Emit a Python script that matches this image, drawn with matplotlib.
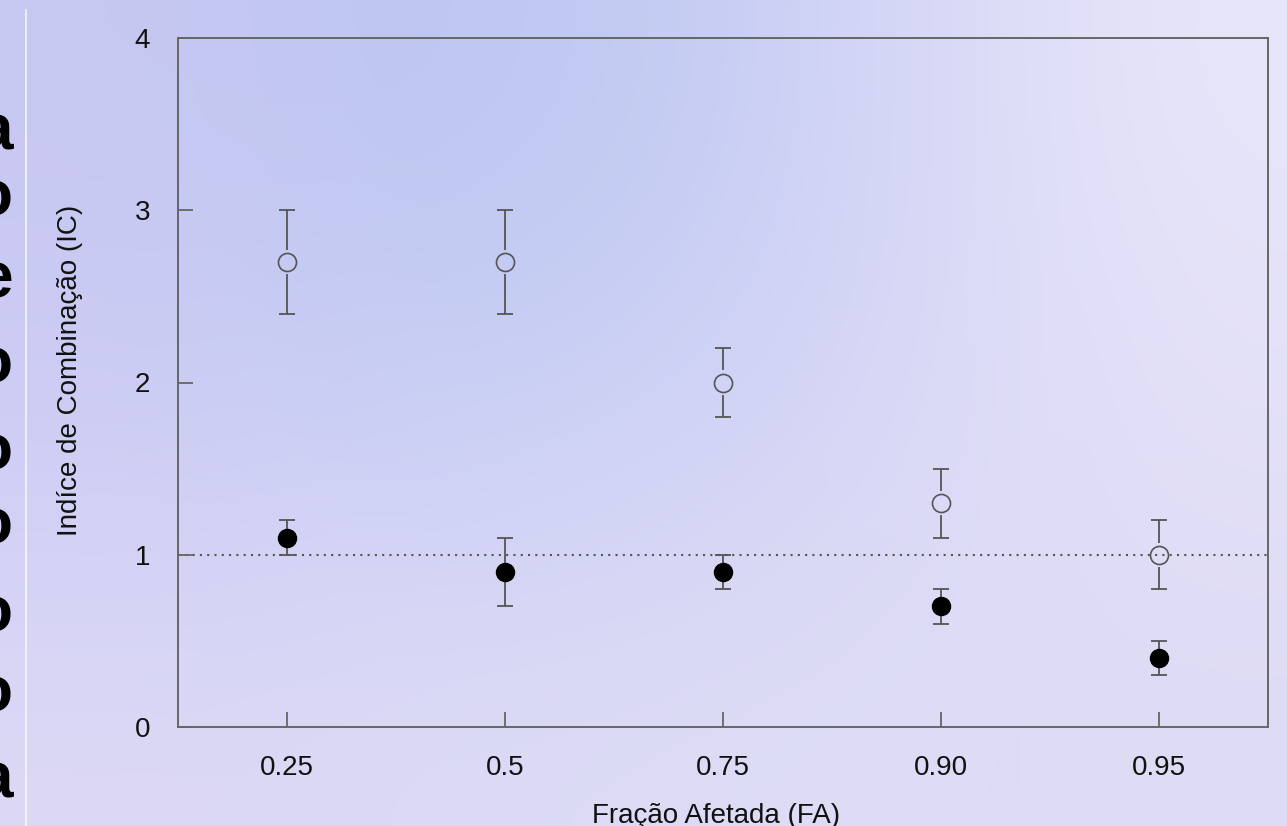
import numpy as np
import matplotlib
matplotlib.use('Agg')
import matplotlib.pyplot as plt

# ---- data ----
fa_labels = ['0.25', '0.5', '0.75', '0.90', '0.95']
ic_open = [2.7, 2.7, 2.0, 1.3, 1.0]
err_open = [0.3, 0.3, 0.2, 0.2, 0.2]
ic_filled = [1.1, 0.9, 0.9, 0.7, 0.4]
err_filled = [0.1, 0.2, 0.1, 0.1, 0.1]
y_ticks = [0, 1, 2, 3, 4]
ref_line = 1.0
side_letters = ['a', 'o', 'e', 'o', 'o', 'o', 'o', 'o', 'a']
side_letters_ypx = [132, 198, 280, 365, 452, 527, 615, 695, 781]

plt.rcParams['font.family'] = ['Liberation Sans', 'DejaVu Sans']

W, H = 1287, 826
fig = plt.figure(figsize=(W / 100, H / 100), dpi=100)

# ---- background gradient ----
bg = np.array([
    [[200, 200, 242], [184, 198, 240], [205, 208, 245], [232, 230, 250]],
    [[204, 204, 245], [200, 208, 245], [212, 212, 246], [228, 225, 248]],
    [[220, 216, 246], [220, 218, 246], [222, 220, 246], [222, 220, 244]],
], dtype=float) / 255.0
ax_bg = fig.add_axes([0, 0, 1, 1], zorder=-10)
ax_bg.imshow(bg, aspect='auto', interpolation='bicubic', extent=[0, 1, 0, 1])
ax_bg.set_xlim(0, 1)
ax_bg.set_ylim(0, 1)
ax_bg.axis('off')

# white thin vertical line and cut-off letters on the left
ax_bg.plot([26 / W, 26 / W], [0, 1 - 10 / H], color='white', lw=1.2, alpha=0.8)
for ch, ypx in zip(side_letters, side_letters_ypx):
    fig.text(13 / W, 1 - ypx / H, ch, ha='right', va='center', fontsize=46,
             fontweight='bold', color='black')

# ---- main axes ----
left, right, bottom, top = 178 / W, 1268 / W, 1 - 727 / H, 1 - 38 / H
ax = fig.add_axes([left, bottom, right - left, top - bottom])
ax.set_facecolor('none')

x = np.arange(len(fa_labels))
ic_open_a = np.array(ic_open)
err_open_a = np.array(err_open)

line_c = '#555555'
# reference line
ax.axhline(ref_line, color=line_c, lw=1.5, ls=(0, (1, 2.5)), zorder=1)

# open series: error bars with gap around the hollow marker
gap = 0.07
ax.vlines(x, ic_open_a + gap, ic_open_a + err_open_a, color=line_c, lw=1.3, zorder=2)
ax.vlines(x, ic_open_a - err_open_a, ic_open_a - gap, color=line_c, lw=1.3, zorder=2)
ax.plot(x, ic_open_a + err_open_a, ls='none', marker='_', ms=12, mew=1.3, color=line_c, zorder=2)
ax.plot(x, ic_open_a - err_open_a, ls='none', marker='_', ms=12, mew=1.3, color=line_c, zorder=2)
ax.plot(x, ic_open_a, ls='none', marker='o', ms=13, mfc='none', mec=line_c, mew=1.2, zorder=3)

# filled series
ax.errorbar(x, ic_filled, yerr=err_filled, fmt='o', ms=13, mfc='black', mec='black',
            ecolor=line_c, elinewidth=1.3, capsize=6, capthick=1.3, zorder=3)

ax.set_xlim(-0.5, len(fa_labels) - 0.5)
ax.set_ylim(0, 4)
ax.set_xticks(x)
ax.set_xticklabels(fa_labels)
ax.set_yticks(y_ticks)
ax.set_yticklabels([str(v) for v in y_ticks])

for s in ax.spines.values():
    s.set_color('#666666')
    s.set_linewidth(1.4)
ax.tick_params(direction='in', length=11, width=1.3, color='#666666',
               labelsize=20, labelcolor='#111111', pad=20)

ax.set_ylabel('Indíce de Combinação (IC)', fontsize=20, color='#111111')
ax.yaxis.set_label_coords((83 - 178) / (1268 - 178), (727 - 370) / (727 - 38))

fig.text(716 / W, 3 / H, 'Fração Afetada (FA)', ha='center', va='baseline',
         fontsize=20, color='#111111')

fig.savefig('out.png', dpi=100)
